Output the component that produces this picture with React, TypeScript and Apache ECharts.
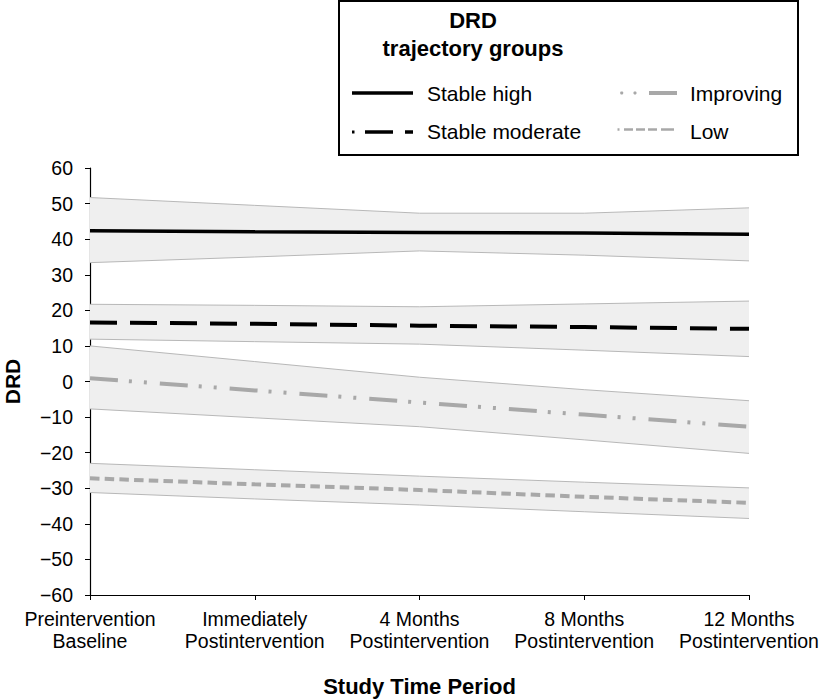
import React, { useEffect, useRef } from "react";
import * as echarts from "echarts";

const categories = [
  "Preintervention\nBaseline",
  "Immediately\nPostintervention",
  "4 Months\nPostintervention",
  "8 Months\nPostintervention",
  "12 Months\nPostintervention",
];

const stableHighMean = [42.4, 42.1, 41.9, 41.7, 41.4];
const stableHighUpper = [51.7, 49.5, 47.3, 47.3, 48.8];
const stableHighLower = [33.4, 35.0, 36.7, 35.5, 33.9];

const stableModMean = [16.6, 16.2, 15.7, 15.3, 14.8];
const stableModUpper = [21.7, 21.4, 21.0, 21.8, 22.6];
const stableModLower = [11.9, 11.2, 10.5, 8.8, 7.0];

const improvingMean = [0.9, -2.5, -5.9, -9.3, -12.7];
const improvingUpper = [10.0, 5.6, 1.2, -2.3, -5.4];
const improvingLower = [-7.7, -10.2, -12.7, -16.4, -20.2];

const lowMean = [-27.2, -28.9, -30.5, -32.4, -34.1];
const lowUpper = [-23.0, -24.8, -26.6, -28.3, -29.9];
const lowLower = [-31.2, -33.0, -34.7, -36.6, -38.5];

const FONT = "'Liberation Sans', Arial, Helvetica, sans-serif";
const BAND_FILL = "#efefef";
const BAND_LINE = "#b8b8b8";
const GRAY = "#a8a8a8";

function bandSeries(name: string, lower: number[], upper: number[]) {
  const diff = upper.map((u, i) => +(u - lower[i]).toFixed(2));
  return [
    {
      name: name + "-lower",
      type: "line",
      stack: name,
      stackStrategy: "all",
      data: lower,
      symbol: "none",
      lineStyle: { color: BAND_LINE, width: 1 },
      silent: true,
    },
    {
      name: name + "-band",
      type: "line",
      stack: name,
      stackStrategy: "all",
      data: diff,
      symbol: "none",
      lineStyle: { color: BAND_LINE, width: 1 },
      areaStyle: { color: BAND_FILL, opacity: 1 },
      silent: true,
    },
  ];
}

function meanSeries(name: string, data: number[], color: string, width: number, dash: any) {
  return {
    name,
    type: "line",
    data,
    symbol: "none",
    z: 5,
    lineStyle: { color, width, type: dash, cap: "butt" },
  };
}

function seg(x1: number, x2: number, y: number, color: string, w: number) {
  return {
    type: "line",
    shape: { x1, y1: y, x2, y2: y },
    style: { stroke: color, lineWidth: w },
  };
}

function dot(x: number, y: number, color: string, r: number) {
  return { type: "circle", shape: { cx: x, cy: y, r }, style: { fill: color } };
}

function label(text: string, x: number, y: number, size: number, bold = false, align = "left") {
  return {
    type: "text",
    x,
    y,
    style: {
      text,
      fill: "#000",
      font: `${bold ? "bold " : ""}${size}px ${FONT}`,
      align,
      verticalAlign: "middle",
    },
  };
}

export default function App() {
  const ref = useRef<HTMLDivElement>(null);

  useEffect(() => {
    document.body.style.margin = "0";
    const chart = echarts.init(ref.current!, null, { renderer: "svg" });
    const option: any = {
      animation: false,
      backgroundColor: "#fff",
      grid: { left: 90, right: 73, top: 168, bottom: 104, outerBoundsMode: "none" },
      xAxis: {
        type: "category",
        data: categories,
        boundaryGap: false,
        axisLine: { onZero: false, lineStyle: { color: "#000", width: 1.2 } },
        axisTick: { alignWithLabel: true, length: 5, lineStyle: { color: "#000" } },
        axisLabel: {
          color: "#000",
          fontSize: 19.5,
          fontFamily: FONT,
          lineHeight: 22,
          margin: 13,
          interval: 0,
        },
        name: "Study Time Period",
        nameLocation: "middle",
        nameGap: 80,
        nameTextStyle: { color: "#000", fontSize: 22, fontWeight: "bold", fontFamily: FONT },
      },
      yAxis: {
        type: "value",
        min: -60,
        max: 60,
        interval: 10,
        splitLine: { show: false },
        axisLine: { show: true, lineStyle: { color: "#000", width: 1.2 } },
        axisTick: { show: true, length: 5, lineStyle: { color: "#000" } },
        axisLabel: {
          color: "#000",
          fontSize: 19.5,
          fontFamily: FONT,
          margin: 17,
          formatter: (v: number) => (v < 0 ? "\u2212" + Math.abs(v) : String(v)),
        },
        name: "DRD",
        nameLocation: "middle",
        nameGap: 69,
        nameRotate: 90,
        nameTextStyle: {
          color: "#000",
          fontSize: 21,
          lineHeight: 17,
          fontWeight: "bold",
          fontFamily: FONT,
        },
      },
      series: [
        ...bandSeries("high", stableHighLower, stableHighUpper),
        ...bandSeries("mod", stableModLower, stableModUpper),
        ...bandSeries("imp", improvingLower, improvingUpper),
        ...bandSeries("low", lowLower, lowUpper),
        meanSeries("Stable high", stableHighMean, "#000", 3.5, "solid"),
        meanSeries("Stable moderate", stableModMean, "#000", 4, [27, 13]),
        meanSeries("Improving", improvingMean, GRAY, 4, [28, 11, 3, 12, 3, 13]),
        meanSeries("Low", lowMean, GRAY, 4, [9.5, 5.2]),
      ],
      graphic: [
        {
          type: "rect",
          shape: { x: 339, y: 1, width: 459, height: 154 },
          style: { fill: "#fff", stroke: "#000", lineWidth: 2 },
        },
        label("DRD", 473, 20, 22, true, "center"),
        label("trajectory groups", 473, 48, 22, true, "center"),
        seg(352, 413, 93, "#000", 3.5),
        label("Stable high", 427, 93, 21),
        seg(352, 354.5, 132, "#000", 3),
        seg(365, 393, 132, "#000", 3.5),
        seg(405, 413, 132, "#000", 3.5),
        label("Stable moderate", 427, 131, 21),
        dot(621.7, 93, GRAY, 1.6),
        dot(635, 93, GRAY, 1.6),
        seg(649, 677, 93, GRAY, 4),
        label("Improving", 690, 93, 21),
        seg(617.5, 619.5, 129.5, GRAY, 2.5),
        seg(624, 633, 129.5, GRAY, 2.5),
        seg(636, 645, 129.5, GRAY, 2.5),
        seg(648, 657, 129.5, GRAY, 2.5),
        seg(661, 674, 129.5, GRAY, 2.5),
        label("Low", 690, 131, 21),
      ],
    };
    chart.setOption(option);
    return () => chart.dispose();
  }, []);

  return (
    <div
      ref={ref}
      style={{ position: "fixed", left: 0, top: 0, width: 822, height: 699 }}
    />
  );
}
